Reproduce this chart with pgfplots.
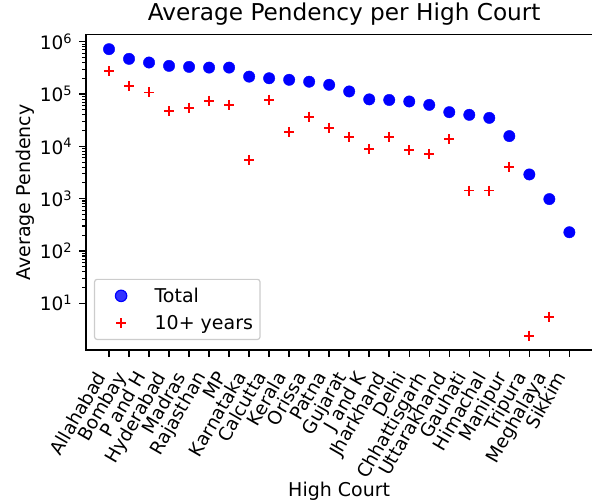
\documentclass[border=0pt]{standalone}
\usepackage{fontspec}
\setmainfont{DejaVu Sans}
\usepackage{pgfplots}
\pgfplotsset{compat=1.18}
\newcommand\lf{\fontsize{19bp}{22bp}\selectfont}
\newcommand\kf{\fontsize{18.5bp}{22bp}\selectfont}
\newcommand\tf{\fontsize{23.2bp}{27bp}\selectfont}

\begin{document}
\begin{tikzpicture}
\begin{axis}[
  name=ax,
  scale only axis,
  width=506.4bp, height=315.3bp,
  ymode=log,
  xmin=-1.15, xmax=24.15,
  ymin=1.279, ymax=1.361e6,
  tick pos=left,
  tick align=outside,
  major tick length=6.7bp,
  minor tick length=3.8bp,
  every major tick/.append style={line width=1.5bp, black},
  every minor tick/.append style={line width=1.1bp, black},
  axis line style={line width=1.5bp},
  xtick={0,...,23},
  xticklabels={Allahabad,Bombay,P and H,Hyderabad,Madras,Rajasthan,MP,Karnataka,Calcutta,Kerala,Orissa,Patna,Gujarat,J and K,Jharkhand,Delhi,Chhattisgarh,Uttarakhand,Gauhati,Himachal,Manipur,Tripura,Meghalaya,Sikkim},
  xticklabel style={font=\kf, inner sep=0pt, xshift=-2.3bp, yshift=-20bp, rotate=60, anchor=base east},
  ytick={10,100,1000,10000,100000,1000000},
  yticklabel={\pgfmathparse{int(round(\tick/2.302585093))}10\textsuperscript{\pgfmathresult}},
  yticklabel style={font=\kf, inner sep=0pt, anchor=east, xshift=-7bp},
  title={Average Pendency per High Court},
  title style={font=\tf, at={(axis description cs:0.5099,1.0276)}, anchor=base, inner sep=0pt},
  xlabel={High Court},
  xlabel style={font=\lf, at={(axis description cs:0.5,-0.4662)}, anchor=base, inner sep=0pt},
  ylabel={Average Pendency},
  ylabel style={font=\lf, at={(axis description cs:-0.1087,0.5)}, anchor=base, inner sep=0pt},
  legend image code/.code={\path[draw=none,fill=none] (0bp,-5bp) rectangle (39bp,5bp); \draw[#1] plot coordinates {(19.5bp,0bp)};},
  legend style={font=\lf, draw=black!20, line width=1.2bp, rounded corners=2.5bp, fill=white, fill opacity=0.8, text opacity=1,
    at={(axis description cs:0.0158,0.0317)}, anchor=south west, inner xsep=7bp, inner ysep=8.5bp, row sep=11.5bp, column sep=14bp,
    nodes={inner sep=0pt}},
  legend cell align=left,
]
\addplot[only marks, mark=*, mark size=5.7bp, draw=blue, fill=blue] coordinates {
(0,7.2e5) (1,4.7e5) (2,4.0e5) (3,3.45e5) (4,3.3e5) (5,3.2e5) (6,3.2e5) (7,2.15e5)
(8,2.0e5) (9,1.87e5) (10,1.72e5) (11,1.5e5) (12,1.12e5) (13,7.9e4) (14,7.7e4) (15,7.2e4)
(16,6.2e4) (17,4.5e4) (18,4.0e4) (19,3.5e4) (20,1.57e4) (21,2.9e3) (22,980) (23,228)
};
\addlegendentry{Total}
\addplot[only marks, mark=+, mark size=5bp, line width=1.9bp, draw=red] coordinates {
(0,2.75e5) (1,1.42e5) (2,1.07e5) (3,4.65e4) (4,5.5e4) (5,7.45e4) (6,6.2e4) (7,5.5e3)
(8,7.8e4) (9,1.87e4) (10,3.7e4) (11,2.27e4) (12,1.49e4) (13,8.9e3) (14,1.49e4) (15,8.4e3)
(16,7.2e3) (17,1.36e4) (18,1.43e3) (19,1.43e3) (20,3.97e3) (21,2.4) (22,5.5)
};
\addlegendentry{10+ years}
\end{axis}
\pgfresetboundingbox
\path ([xshift=-86bp,yshift=-152bp]ax.south west) rectangle ([xshift=-0.4bp,yshift=34.7bp]ax.north east);
\end{tikzpicture}
\end{document}
